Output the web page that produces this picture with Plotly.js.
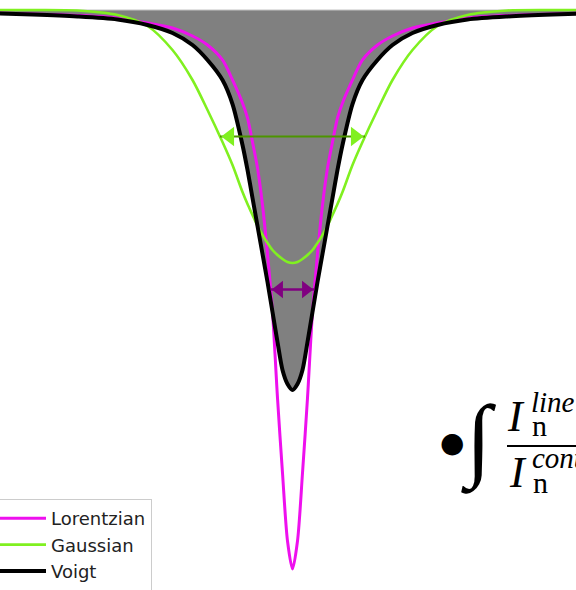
<!DOCTYPE html>
<html>
<head>
<meta charset="utf-8">
<script src="https://cdn.plot.ly/plotly-3.0.1.min.js"></script>
<style>
  html, body { margin: 0; padding: 0; background: #ffffff; }
  #chart { width: 576px; height: 590px; }
</style>
</head>
<body>
<div id="chart"></div>
<script>
// Wavelength offset from line centre (arbitrary units)
const dLambda = [
  -2.95, -2.60, -2.15, -1.75, -1.45, -1.20, -1.00, -0.85, -0.70, -0.60, -0.50,
  -0.45, -0.40, -0.35, -0.30, -0.25, -0.20, -0.15, -0.10, -0.05,
   0.00,
   0.05,  0.10,  0.15,  0.20,  0.25,  0.30,  0.35,  0.40,  0.45,  0.50,
   0.60,  0.70,  0.85,  1.00,  1.20,  1.45,  1.75,  2.15,  2.60,  2.95
];

// Normalised flux of each profile on the dLambda grid
const lorentzian = [
  0.9946, 0.9928, 0.9902, 0.9857, 0.9767, 0.9678, 0.9535, 0.9374, 0.9106, 0.8748, 0.8336,
  0.8068, 0.7639, 0.7174, 0.6512, 0.5635, 0.4597, 0.3059, 0.1717, 0.0501,
  0.0000,
  0.0501, 0.1717, 0.3059, 0.4597, 0.5635, 0.6512, 0.7174, 0.7639, 0.8068, 0.8336,
  0.8748, 0.9106, 0.9374, 0.9535, 0.9678, 0.9767, 0.9857, 0.9902, 0.9928, 0.9946
];

const gaussian = [
  1.0000, 1.0000, 0.9991, 0.9911, 0.9714, 0.9284, 0.8748, 0.8211, 0.7639, 0.7227, 0.6744,
  0.6530, 0.6333, 0.6136, 0.5975, 0.5832, 0.5707, 0.5617, 0.5546, 0.5492,
  0.5474,
  0.5492, 0.5546, 0.5617, 0.5707, 0.5832, 0.5975, 0.6136, 0.6333, 0.6530, 0.6744,
  0.7227, 0.7639, 0.8211, 0.8748, 0.9284, 0.9714, 0.9911, 0.9991, 1.0000, 1.0000
];

const voigt = [
  0.9937, 0.9919, 0.9884, 0.9830, 0.9732, 0.9589, 0.9374, 0.9106, 0.8748, 0.8318, 0.7585,
  0.7138, 0.6637, 0.6136, 0.5635, 0.5134, 0.4597, 0.4061, 0.3560, 0.3309,
  0.3202,
  0.3309, 0.3560, 0.4061, 0.4597, 0.5134, 0.5635, 0.6136, 0.6637, 0.7138, 0.7585,
  0.8318, 0.8748, 0.9106, 0.9374, 0.9589, 0.9732, 0.9830, 0.9884, 0.9919, 0.9937
];

// Half widths at half depth of the Gaussian and Lorentzian profiles
const gaussHWHM = 0.725;
const lorentzHWHM = 0.22;

const continuum = dLambda.map(() => 1.0);

const MAGENTA = '#ee10ee';
const GREEN = '#80f020';
const GREEN_DARK = '#4c9400';
const PURPLE = '#800080';

const W = 576, H = 590;
const pxPerUnit = 100; // x axis: 5.76 units over 576 px
const px = p => p / W;
const py = p => 1 - p / H;

// Double-headed arrow drawn as a line plus two triangle heads
function fwhmArrow(level, hw, lineColor, headColor, headSize, lineWidth) {
  const off = headSize / Math.sqrt(3) / pxPerUnit;
  return [
    { x: [-hw, hw], y: [level, level], mode: 'lines', showlegend: false,
      hoverinfo: 'skip', line: { color: lineColor, width: lineWidth } },
    { x: [-hw + off, hw - off], y: [level, level], mode: 'markers', showlegend: false,
      hoverinfo: 'skip',
      marker: { symbol: ['triangle-left', 'triangle-right'], size: headSize,
                color: headColor, line: { width: 0 } } }
  ];
}

const gMin = Math.min(...gaussian);
const lMin = Math.min(...lorentzian);

const traces = [
  // reference level for the filled equivalent-width area
  { x: dLambda, y: continuum, mode: 'lines', showlegend: false, hoverinfo: 'skip',
    line: { width: 0 } },
  { x: dLambda, y: voigt, mode: 'lines', fill: 'tonexty', fillcolor: '#808080',
    showlegend: false, hoverinfo: 'skip', line: { width: 0, shape: 'spline', smoothing: 0.8 } },
  // continuum level
  { x: dLambda, y: continuum, mode: 'lines', showlegend: false, hoverinfo: 'skip',
    line: { color: '#c4c4c4', width: 1.2 } },
  { x: dLambda, y: lorentzian, mode: 'lines', name: 'Lorentzian', legendrank: 1,
    line: { color: MAGENTA, width: 3, shape: 'spline', smoothing: 0.8 } },
  { x: dLambda, y: gaussian, mode: 'lines', name: 'Gaussian', legendrank: 2,
    line: { color: GREEN, width: 2.6, shape: 'spline', smoothing: 0.8 } },
  { x: dLambda, y: voigt, mode: 'lines', name: 'Voigt', legendrank: 3,
    line: { color: '#000000', width: 4, shape: 'spline', smoothing: 0.8 } },
  ...fwhmArrow((1 + gMin) / 2, gaussHWHM, GREEN_DARK, GREEN, 17, 2),
  ...fwhmArrow((1 + lMin) / 2, lorentzHWHM, PURPLE, PURPLE, 15, 2.5)
];

const serif = 'Liberation Serif';
const ann = (text, xPix, yPix, size, opts) => Object.assign({
  text: text, xref: 'paper', yref: 'paper', x: px(xPix), y: py(yPix),
  xanchor: 'left', yanchor: 'middle', showarrow: false,
  font: { family: serif, size: size, color: '#000000' }
}, opts || {});

const annotations = [
  ann('●', 438, 442, 28, { font: { family: 'DejaVu Sans', size: 28, color: '#000' } }),
  ann('<i>∫</i>', 459, 440, 92, { font: { family: serif, size: 92, color: '#000' } }),
  ann('<i>I</i>', 505, 416, 44),
  ann('<i>line</i>', 529, 402, 29),
  ann('n', 530, 425, 30),
  ann('<i>I</i>', 507, 472, 44),
  ann('<i>cont</i>', 530, 458, 29),
  ann('n', 531, 482, 30)
];

const layout = {
  width: W, height: H,
  margin: { l: 0, r: 0, t: 0, b: 0, pad: 0, autoexpand: false },
  paper_bgcolor: '#ffffff', plot_bgcolor: '#ffffff',
  xaxis: { range: [-2.925, 2.835], visible: false, fixedrange: true },
  yaxis: { range: [-0.0376, 1.0179], visible: false, fixedrange: true },
  showlegend: true,
  legend: {
    x: px(-8), y: py(499), xanchor: 'left', yanchor: 'top',
    traceorder: 'normal',
    bgcolor: '#ffffff', bordercolor: '#cccccc', borderwidth: 1,
    font: { family: 'DejaVu Sans', size: 18, color: '#222222' },
    itemwidth: 48
  },
  shapes: [
    { type: 'line', xref: 'paper', yref: 'paper', x0: px(507), x1: px(590),
      y0: py(446), y1: py(446), line: { color: '#000000', width: 2 } }
  ],
  annotations: annotations
};

Plotly.newPlot('chart', traces, layout, { staticPlot: true, displayModeBar: false });
</script>
</body>
</html>
